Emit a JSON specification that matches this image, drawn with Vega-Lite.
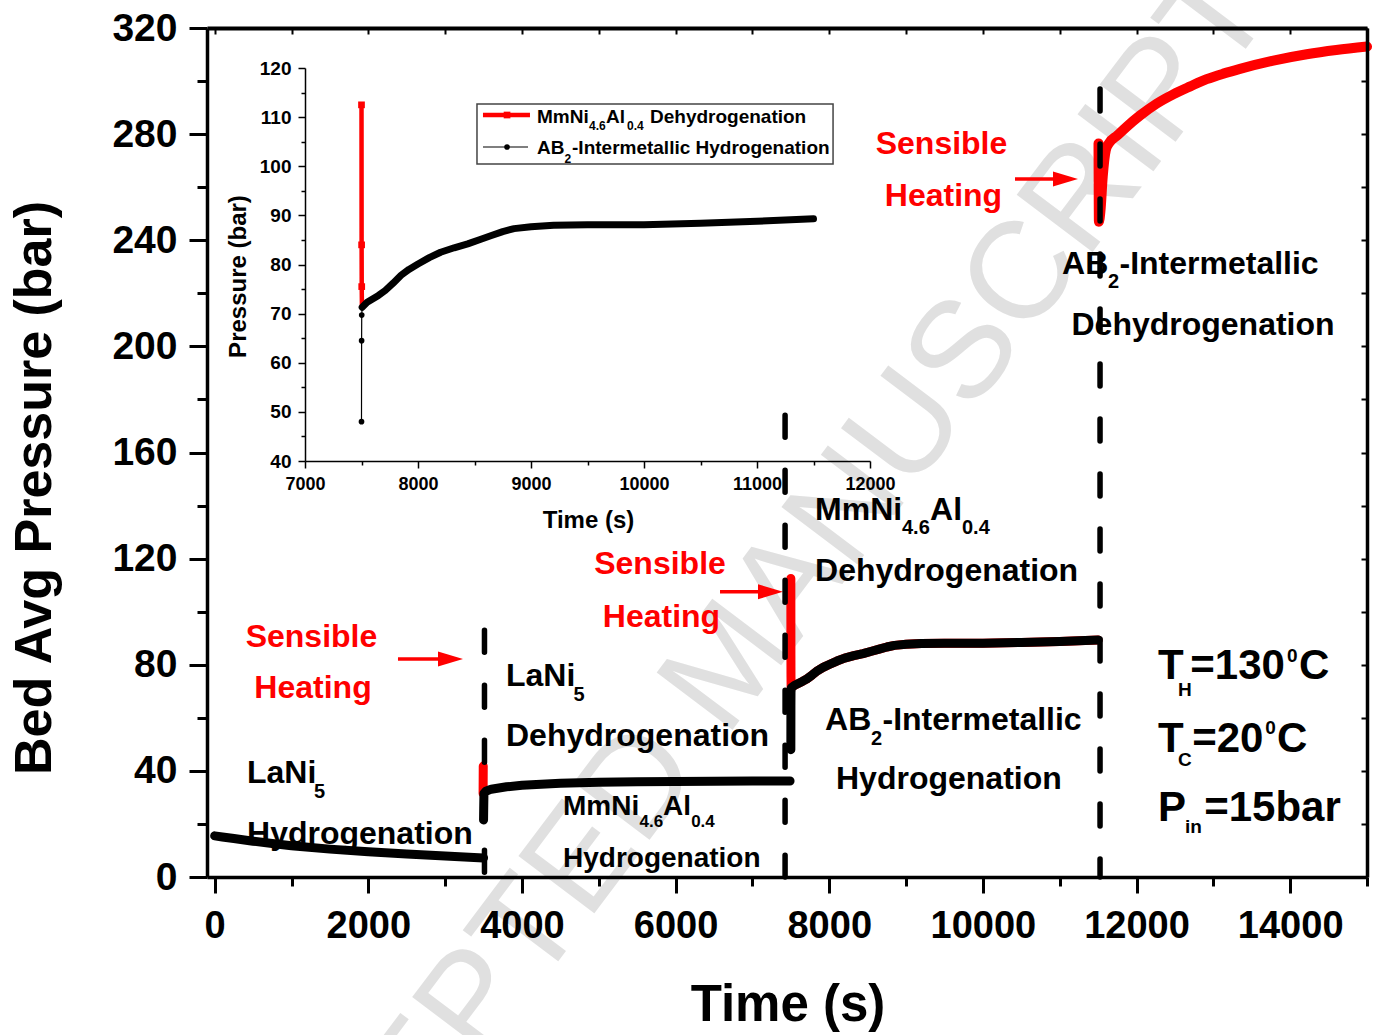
{
  "$schema": "https://vega.github.io/schema/vega-lite/v6.json",
  "width": 1160,
  "height": 849,
  "autosize": {"type": "none"},
  "padding": {"left": 207, "top": 28, "right": 6, "bottom": 158},
  "background": "white",
  "config": {
    "view": {"stroke": null},
    "axis": {"grid": false, "domainColor": "#000", "tickColor": "#000", "labelColor": "#000", "titleColor": "#000", "labelFont": "Liberation Sans", "titleFont": "Liberation Sans", "labelFontWeight": "bold", "titleFontWeight": "bold", "labelFlush": false, "labelOverlap": false, "labelBound": false},
    "text": {"font": "Liberation Sans", "fontWeight": "bold"}
  },
  "datasets": {
    "lani_h": [{"t":0,"p":15.5},{"t":100,"p":15.1},{"t":250,"p":14.5},{"t":500,"p":13.5},{"t":750,"p":12.6},{"t":1000,"p":11.8},{"t":1500,"p":10.5},{"t":2000,"p":9.5},{"t":2500,"p":8.7},{"t":3000,"p":7.9},{"t":3500,"p":7.2}],
    "heat1": [{"t":3494,"p":31.5},{"t":3496,"p":41.8}],
    "lani_d": [{"t":3500,"p":21.5},{"t":3502,"p":26},{"t":3505,"p":31.5},{"t":3530,"p":32.3},{"t":3600,"p":33.1},{"t":3800,"p":34},{"t":4000,"p":34.6},{"t":4500,"p":35.3},{"t":5000,"p":35.7},{"t":5500,"p":35.9},{"t":6000,"p":36.0},{"t":6500,"p":36.1},{"t":7000,"p":36.2},{"t":7490,"p":36.2}],
    "mm_d": [{"t":7500,"p":112.5},{"t":7501,"p":84},{"t":7502,"p":75.5},{"t":7504,"p":71},{"t":7510,"p":71.5},{"t":7550,"p":72.3},{"t":7650,"p":73.7},{"t":7710,"p":74.7},{"t":7780,"p":76.2},{"t":7850,"p":77.8},{"t":7920,"p":79},{"t":8000,"p":80.1},{"t":8100,"p":81.4},{"t":8200,"p":82.5},{"t":8320,"p":83.4},{"t":8440,"p":84.2},{"t":8550,"p":85.1},{"t":8650,"p":85.9},{"t":8750,"p":86.7},{"t":8850,"p":87.3},{"t":9000,"p":87.7},{"t":9200,"p":88.0},{"t":9500,"p":88.1},{"t":10000,"p":88.1},{"t":10500,"p":88.4},{"t":11000,"p":88.8},{"t":11500,"p":89.3}],
    "ab2_h": [{"t":7500,"p":48},{"t":7501,"p":64.5},{"t":7502,"p":69.7},{"t":7506,"p":71.3},{"t":7550,"p":72.3},{"t":7650,"p":73.7},{"t":7710,"p":74.7},{"t":7780,"p":76.2},{"t":7850,"p":77.8},{"t":7920,"p":79},{"t":8000,"p":80.1},{"t":8100,"p":81.4},{"t":8200,"p":82.5},{"t":8320,"p":83.4},{"t":8440,"p":84.2},{"t":8550,"p":85.1},{"t":8650,"p":85.9},{"t":8750,"p":86.7},{"t":8850,"p":87.3},{"t":9000,"p":87.7},{"t":9200,"p":88.0},{"t":9500,"p":88.1},{"t":10000,"p":88.1},{"t":10500,"p":88.4},{"t":11000,"p":88.8},{"t":11500,"p":89.3}],
    "ab2_d": [{"t":11505,"p":276.5},{"t":11507,"p":262},{"t":11510,"p":247},{"t":11530,"p":251},{"t":11560,"p":264},{"t":11600,"p":274},{"t":11640,"p":276.5},{"t":11750,"p":279.5},{"t":11872,"p":282.8},{"t":12045,"p":287},{"t":12262,"p":291.5},{"t":12478,"p":295},{"t":12700,"p":298},{"t":12913,"p":300.7},{"t":13130,"p":302.8},{"t":13347,"p":304.6},{"t":13781,"p":307.7},{"t":14215,"p":310.1},{"t":14600,"p":311.7},{"t":15000,"p":313}],
    "arrows": [{"t":2386,"t2":3070,"p":82.2},{"t":6578,"t2":7235,"p":107.5},{"t":10418,"t2":11075,"p":263.1}],
    "notes": [
      {"t":1260,"p":90.5,"txt":"Sensible","role":"heat"},
      {"t":1280,"p":71.1,"txt":"Heating","role":"heat"},
      {"t":5797,"p":118.0,"txt":"Sensible","role":"heat"},
      {"t":5816,"p":98.0,"txt":"Heating","role":"heat"},
      {"t":9461,"p":276.3,"txt":"Sensible","role":"heat"},
      {"t":9487,"p":256.7,"txt":"Heating","role":"heat"},
      {"t":421,"p":39.3,"txt":"LaNi","role":"label"},
      {"t":1293,"p":32.1,"txt":"5","role":"lsub"},
      {"t":421,"p":16.2,"txt":"Hydrogenation","role":"label"},
      {"t":3792,"p":75.8,"txt":"LaNi","role":"label"},
      {"t":4671,"p":68.5,"txt":"5","role":"lsub"},
      {"t":3792,"p":53.2,"txt":"Dehydrogenation","role":"label"},
      {"t":4534,"p":26.2,"txt":"MmNi","role":"small"},
      {"t":5530,"p":20.7,"txt":"4.6","role":"ssub"},
      {"t":5837,"p":26.2,"txt":"Al","role":"small"},
      {"t":6202,"p":20.7,"txt":"0.4","role":"ssub"},
      {"t":4534,"p":6.6,"txt":"Hydrogenation","role":"small"},
      {"t":7815,"p":138.2,"txt":"MmNi","role":"label"},
      {"t":8947,"p":131.5,"txt":"4.6","role":"lsub"},
      {"t":9312,"p":138.2,"txt":"Al","role":"label"},
      {"t":9728,"p":131.5,"txt":"0.4","role":"lsub"},
      {"t":7815,"p":115.4,"txt":"Dehydrogenation","role":"label"},
      {"t":7945,"p":59.0,"txt":"AB","role":"label"},
      {"t":8544,"p":52.1,"txt":"2","role":"lsub"},
      {"t":8693,"p":59.0,"txt":"-Intermetallic","role":"label"},
      {"t":8088,"p":36.8,"txt":"Hydrogenation","role":"label"},
      {"t":11030,"p":231.1,"txt":"AB","role":"label"},
      {"t":11629,"p":224.2,"txt":"2","role":"lsub"},
      {"t":11778,"p":231.1,"txt":"-Intermetallic","role":"label"},
      {"t":11153,"p":208.1,"txt":"Dehydrogenation","role":"label"},
      {"t":12279,"p":79.4,"txt":"T","role":"cond"},
      {"t":12540,"p":70.6,"txt":"H","role":"csub"},
      {"t":12700,"p":79.4,"txt":"=130","role":"cond"},
      {"t":13960,"p":83.3,"txt":"0","role":"csub"},
      {"t":14115,"p":79.4,"txt":"C","role":"cond"},
      {"t":12279,"p":51.9,"txt":"T","role":"cond"},
      {"t":12540,"p":44.2,"txt":"C","role":"csub"},
      {"t":12725,"p":51.9,"txt":"=20","role":"cond"},
      {"t":13675,"p":56.3,"txt":"0","role":"csub"},
      {"t":13830,"p":51.9,"txt":"C","role":"cond"},
      {"t":12279,"p":25.9,"txt":"P","role":"cond"},
      {"t":12630,"p":18.8,"txt":"in","role":"csub"},
      {"t":12880,"p":25.9,"txt":"=15bar","role":"cond"}
    ],
    "legend": [
      {"t":9053,"p":110.0,"txt":"MmNi","role":"leg"},
      {"t":9513,"p":108.15,"txt":"4.6","role":"legsub"},
      {"t":9664,"p":110.0,"txt":"Al","role":"leg"},
      {"t":9850,"p":108.15,"txt":"0.4","role":"legsub"},
      {"t":10053,"p":110.0,"txt":"Dehydrogenation","role":"leg"},
      {"t":9053,"p":103.7,"txt":"AB","role":"leg"},
      {"t":9297,"p":101.43,"txt":"2","role":"legsub"},
      {"t":9363,"p":103.7,"txt":"-Intermetallic Hydrogenation","role":"leg"}
    ]
  },
  "resolve": {"scale": {"x": "independent", "y": "independent"}, "axis": {"x": "independent", "y": "independent"}},
  "layer": [
    {
      "encoding": {
        "x": {"field": "t", "type": "quantitative", "scale": {"domain": [-100, 15000], "nice": false, "zero": false},
          "axis": {"orient": "bottom", "zindex": 1, "values": [0,1000,2000,3000,4000,5000,6000,7000,8000,9000,10000,11000,12000,13000,14000,15000], "format": "d",
            "labelExpr": "datum.value % 2000 === 0 ? datum.label : ''", "labelFontSize": 38, "labelPadding": 14,
            "tickSize": {"condition": {"test": "datum.value % 2000 === 0", "value": 16}, "value": 9}, "tickWidth": 3, "domainWidth": 3.5,
            "title": "Time (s)", "titleFontSize": 51, "titleX": 580.5, "titleY": 128.5, "titleAlign": "center", "titleBaseline": "middle"}},
        "y": {"field": "p", "type": "quantitative", "scale": {"domain": [0, 320], "nice": false, "zero": false},
          "axis": {"orient": "left", "zindex": 1, "values": [0,20,40,60,80,100,120,140,160,180,200,220,240,260,280,300,320], "format": "d",
            "labelExpr": "datum.value % 40 === 0 ? datum.label : ''", "labelFontSize": 39, "labelPadding": 12,
            "tickSize": {"condition": {"test": "datum.value % 40 === 0", "value": 18}, "value": 10}, "tickWidth": 3, "domainWidth": 3.5,
            "title": "Bed Avg Pressure (bar)", "titleFontSize": 52, "titleAngle": 270, "titleX": -173, "titleY": 459.5, "titleAlign": "center", "titleBaseline": "middle"}}
      },
      "layer": [
        {"data": {"values": [{"t": 6708, "p": 79.9, "txt": "ACCEPTED MANUSCRIPT"}]},
         "mark": {"type": "text", "font": "Liberation Sans", "fontWeight": "normal", "fontSize": 138, "angle": 307, "color": "#e0e0e0", "align": "center", "baseline": "middle"},
         "encoding": {"text": {"field": "txt"}}},
        {"data": {"name": "heat1"}, "mark": {"type": "line", "color": "#ff0000", "strokeWidth": 9, "strokeCap": "round", "strokeJoin": "round"}},
        {"data": {"name": "mm_d"}, "mark": {"type": "line", "color": "#ff0000", "strokeWidth": 9, "strokeCap": "round", "strokeJoin": "round"}},
        {"data": {"name": "ab2_d"}, "mark": {"type": "line", "color": "#ff0000", "strokeWidth": 10, "strokeCap": "round", "strokeJoin": "round", "interpolate": "monotone"}},
        {"data": {"name": "lani_h"}, "mark": {"type": "line", "color": "#000000", "strokeWidth": 9, "strokeCap": "round", "strokeJoin": "round"}},
        {"data": {"name": "lani_d"}, "mark": {"type": "line", "color": "#000000", "strokeWidth": 9, "strokeCap": "round", "strokeJoin": "round"}},
        {"data": {"name": "ab2_h"}, "mark": {"type": "line", "color": "#000000", "strokeWidth": 9, "strokeCap": "round", "strokeJoin": "round"}},
        {"data": {"name": "arrows"}, "mark": {"type": "rule", "color": "#ff0000", "strokeWidth": 3.5}, "encoding": {"x2": {"field": "t2"}}},
        {"data": {"name": "arrows"}, "mark": {"type": "point", "shape": "M1,0L-1,-0.6L-1,0.6Z", "filled": true, "color": "#ff0000", "opacity": 1, "size": 625, "strokeWidth": 0},
         "encoding": {"x": {"field": "t2", "type": "quantitative"}}},
        {"data": {"name": "notes"}, "transform": [{"filter": "datum.role === 'heat'"}], "mark": {"type": "text", "color": "#ff0000", "fontSize": 32, "align": "center", "baseline": "middle"}, "encoding": {"text": {"field": "txt"}}},
        {"data": {"name": "notes"}, "transform": [{"filter": "datum.role === 'label'"}], "mark": {"type": "text", "color": "#000", "fontSize": 32, "align": "left", "baseline": "middle"}, "encoding": {"text": {"field": "txt"}}},
        {"data": {"name": "notes"}, "transform": [{"filter": "datum.role === 'lsub'"}], "mark": {"type": "text", "color": "#000", "fontSize": 20, "align": "left", "baseline": "middle"}, "encoding": {"text": {"field": "txt"}}},
        {"data": {"name": "notes"}, "transform": [{"filter": "datum.role === 'small'"}], "mark": {"type": "text", "color": "#000", "fontSize": 28, "align": "left", "baseline": "middle"}, "encoding": {"text": {"field": "txt"}}},
        {"data": {"name": "notes"}, "transform": [{"filter": "datum.role === 'ssub'"}], "mark": {"type": "text", "color": "#000", "fontSize": 17, "align": "left", "baseline": "middle"}, "encoding": {"text": {"field": "txt"}}},
        {"data": {"name": "notes"}, "transform": [{"filter": "datum.role === 'cond'"}], "mark": {"type": "text", "color": "#000", "fontSize": 42, "align": "left", "baseline": "middle"}, "encoding": {"text": {"field": "txt"}}},
        {"data": {"name": "notes"}, "transform": [{"filter": "datum.role === 'csub'"}], "mark": {"type": "text", "color": "#000", "fontSize": 19, "align": "left", "baseline": "middle"}, "encoding": {"text": {"field": "txt"}}},
        {"data": {"values": [{"t": 3512, "p": 93}, {"t": 7425, "p": 174}, {"t": 11525, "p": 297}]},
         "mark": {"type": "rule", "color": "#000", "strokeWidth": 5.5, "strokeDash": [22, 33], "strokeCap": "round"},
         "encoding": {"y2": {"datum": 0}}}
      ]
    },
    {
      "data": {"values": [{"t": 0, "p": 0}]},
      "mark": {"type": "point", "opacity": 0},
      "encoding": {
        "x": {"field": "t", "type": "quantitative", "scale": {"domain": [-100, 15000], "nice": false, "zero": false},
          "axis": {"orient": "top", "zindex": 1, "values": [0,1000,2000,3000,4000,5000,6000,7000,8000,9000,10000,11000,12000,13000,14000,15000], "labels": false, "tickSize": -6, "tickWidth": 2, "domainWidth": 4, "title": null}},
        "y": {"field": "p", "type": "quantitative", "scale": {"domain": [0, 320], "nice": false, "zero": false},
          "axis": {"orient": "right", "zindex": 1, "values": [0,20,40,60,80,100,120,140,160,180,200,220,240,260,280,300,320], "labels": false, "tickSize": -6, "tickWidth": 2, "domainWidth": 3.5, "title": null}}
      }
    },
    {
      "encoding": {
        "x": {"field": "t", "type": "quantitative", "scale": {"domain": [7000, 12000], "range": [98, 663], "nice": false, "zero": false},
          "axis": {"orient": "bottom", "zindex": 1, "offset": -416, "values": [7000,7500,8000,8500,9000,9500,10000,10500,11000,11500,12000], "format": "d",
            "labelExpr": "datum.value % 1000 === 0 ? datum.label : ''", "labelFontSize": 18, "labelPadding": 7,
            "tickSize": {"condition": {"test": "datum.value % 1000 === 0", "value": 7}, "value": 4}, "tickWidth": 1.5, "domainWidth": 1.5,
            "title": "Time (s)", "titleFontSize": 24, "titleX": 381, "titleY": 59.5, "titleAlign": "center", "titleBaseline": "middle"}},
        "y": {"field": "p", "type": "quantitative", "scale": {"domain": [40, 120], "range": [433, 40], "nice": false, "zero": false},
          "axis": {"orient": "left", "zindex": 1, "offset": -98, "values": [40,45,50,55,60,65,70,75,80,85,90,95,100,105,110,115,120], "format": "d",
            "labelExpr": "datum.value % 10 === 0 ? datum.label : ''", "labelFontSize": 19, "labelPadding": 7,
            "tickSize": {"condition": {"test": "datum.value % 10 === 0", "value": 7}, "value": 4}, "tickWidth": 1.5, "domainWidth": 1.5,
            "title": "Pressure (bar)", "titleFontSize": 24, "titleAngle": 270, "titleX": -66.6, "titleY": 248, "titleAlign": "center", "titleBaseline": "middle"}}
      },
      "layer": [
        {"data": {"values": [{"t": 8522, "t2": 11673, "p": 112.67, "p2": 100.46}]},
         "mark": {"type": "rect", "fill": "white", "stroke": "#444", "strokeWidth": 1.5},
         "encoding": {"x2": {"field": "t2"}, "y2": {"field": "p2"}}},
        {"data": {"name": "mm_d"}, "mark": {"type": "line", "color": "#ff0000", "strokeWidth": 4.5}},
        {"data": {"name": "mm_d"}, "transform": [{"filter": "datum.p > 74 && datum.t < 7505"}], "mark": {"type": "point", "shape": "square", "filled": true, "color": "#ff0000", "opacity": 1, "size": 45}},
        {"data": {"name": "ab2_h"}, "mark": {"type": "line", "color": "#000", "strokeWidth": 1.2}},
        {"data": {"name": "ab2_h"}, "transform": [{"filter": "datum.p < 71"}], "mark": {"type": "point", "shape": "circle", "filled": true, "color": "#000", "opacity": 1, "size": 32}},
        {"data": {"name": "ab2_h"}, "transform": [{"filter": "datum.p >= 71"}], "mark": {"type": "line", "color": "#000", "strokeWidth": 7, "strokeCap": "round", "strokeJoin": "round"}},
        {"data": {"values": [{"t": 8575, "t2": 8991, "p": 110.43}]}, "mark": {"type": "rule", "color": "#ff0000", "strokeWidth": 4.5}, "encoding": {"x2": {"field": "t2"}}},
        {"data": {"values": [{"t": 8788, "p": 110.43}]}, "mark": {"type": "point", "shape": "square", "filled": true, "color": "#ff0000", "opacity": 1, "size": 45}},
        {"data": {"values": [{"t": 8575, "t2": 8974, "p": 103.92}]}, "mark": {"type": "rule", "color": "#000", "strokeWidth": 1.2}, "encoding": {"x2": {"field": "t2"}}},
        {"data": {"values": [{"t": 8788, "p": 103.92}]}, "mark": {"type": "point", "shape": "circle", "filled": true, "color": "#000", "opacity": 1, "size": 32}},
        {"data": {"name": "legend"}, "transform": [{"filter": "datum.role === 'leg'"}], "mark": {"type": "text", "color": "#000", "fontSize": 19, "align": "left", "baseline": "middle"}, "encoding": {"text": {"field": "txt"}}},
        {"data": {"name": "legend"}, "transform": [{"filter": "datum.role === 'legsub'"}], "mark": {"type": "text", "color": "#000", "fontSize": 12, "align": "left", "baseline": "middle"}, "encoding": {"text": {"field": "txt"}}}
      ]
    }
  ]
}
